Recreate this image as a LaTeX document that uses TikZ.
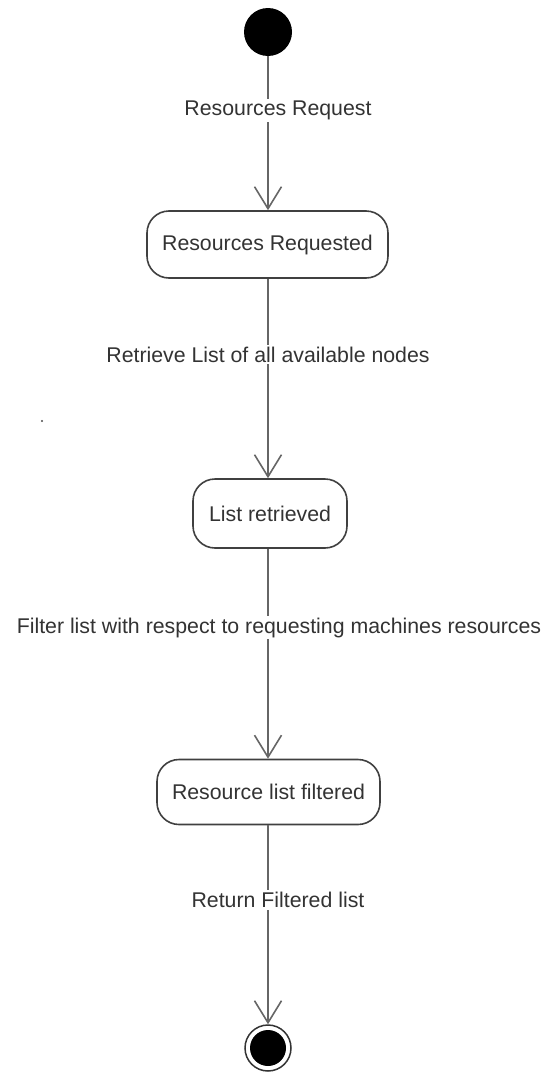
\documentclass[tikz,border=0pt]{standalone}
\usepackage{fontspec}
\setmainfont{Liberation Sans}
\usetikzlibrary{arrows.meta}
\begin{document}
\begin{tikzpicture}[x=1pt,y=-1pt,
  txt/.style={text=black!80, font=\fontsize{21.3}{24}\selectfont},
  state/.style={draw=black!75, line width=1.6pt, rounded corners=22pt, fill=white,
                inner sep=0pt, txt},
  flow/.style={draw=black!60, line width=1.6pt,
               -{Straight Barb[length=22pt,width=27pt,line width=1.6pt]}},
  lbl/.style={fill=white, inner sep=2pt, txt}]
  \useasboundingbox (0,0) rectangle (545,1076);

  % initial and final pseudo-states
  \node[circle, fill=black, minimum size=48pt, inner sep=0pt] (start) at (268,32) {};
  \node[circle, draw=black!80, line width=1.5pt, minimum size=46pt, inner sep=0pt] (stop) at (268,1048) {};
  \node[circle, fill=black, minimum size=36pt, inner sep=0pt] (stopdot) at (268,1048) {};

  % states
  \node[state, minimum width=241pt, minimum height=67pt] (req) at (267.5,244.5) {Resources Requested};
  \node[state, minimum width=154pt, minimum height=69pt] (ret) at (270,513.5) {List retrieved};
  \node[state, minimum width=223pt, minimum height=65pt] (filt) at (268.5,792) {Resource list filtered};

  % transitions
  \draw[flow] (start.south) -- (req.north -| start.south)
    node[lbl, pos=0.35, xshift=10pt] {Resources Request};
  \draw[flow] (req.south -| start.south) -- (ret.north -| start.south)
    node[lbl, pos=0.38, xshift=0pt] {Retrieve List of all available nodes};
  \draw[flow] (ret.south -| start.south) -- (filt.north -| start.south)
    node[lbl, pos=0.375, xshift=11pt] {Filter list with respect to requesting machines resources};
  \draw[flow] (filt.south -| start.south) -- (stop.north)
    node[lbl, pos=0.377, xshift=10pt] {Return Filtered list};

  % small speck
  \fill[black!70] (42,421) circle (1.2pt);
\end{tikzpicture}
\end{document}
